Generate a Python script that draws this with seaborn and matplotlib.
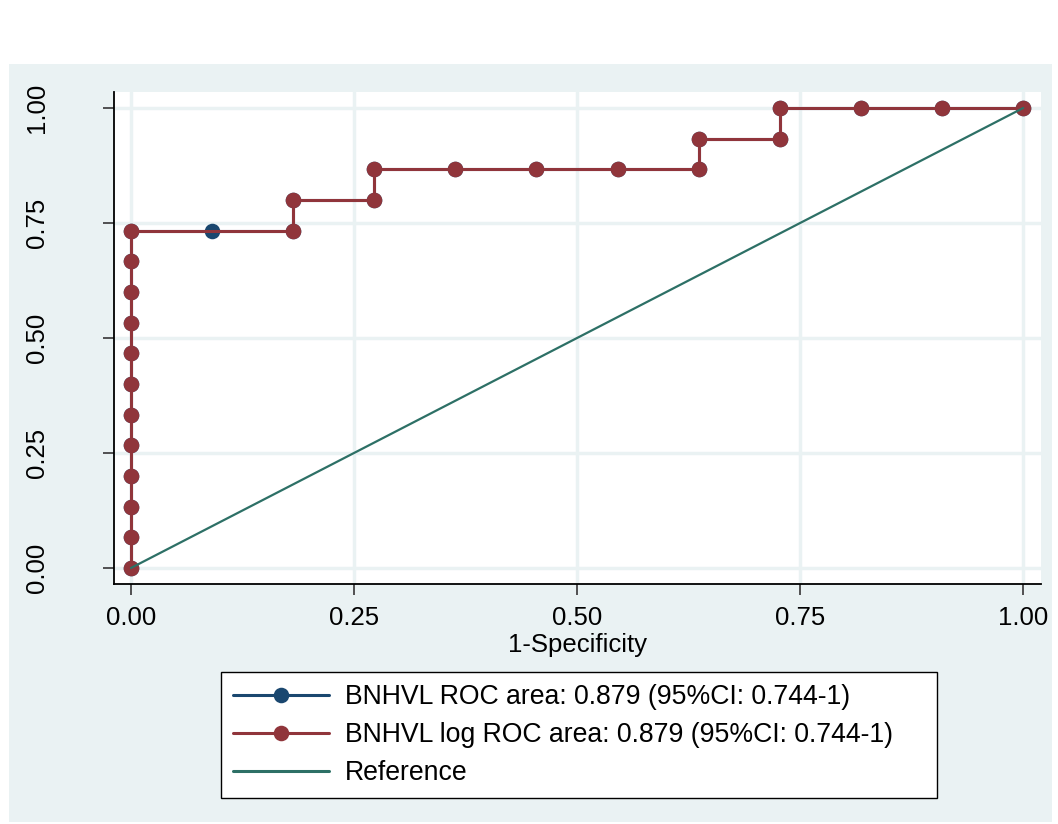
import numpy as np
import pandas as pd
import matplotlib
matplotlib.use("Agg")
import matplotlib.pyplot as plt
import seaborn as sns
from matplotlib.patches import Rectangle
from matplotlib.lines import Line2D

# ---- data ----
fpr_raw = [0, 0, 0, 0, 0, 0, 0, 0, 0, 0, 0, 0, 0.0909, 0.1818, 0.1818, 0.2727, 0.2727,
           0.3636, 0.4545, 0.5455, 0.6364, 0.6364, 0.7273, 0.7273, 0.8182, 0.9091, 1.0]
tpr_raw = [0, 0.0667, 0.1333, 0.2, 0.2667, 0.3333, 0.4, 0.4667, 0.5333, 0.6, 0.6667, 0.7333,
           0.7333, 0.7333, 0.8, 0.8, 0.8667, 0.8667, 0.8667, 0.8667, 0.8667, 0.9333,
           0.9333, 1.0, 1.0, 1.0, 1.0]
fpr_log = [0, 0, 0, 0, 0, 0, 0, 0, 0, 0, 0, 0, 0.1818, 0.1818, 0.2727, 0.2727,
           0.3636, 0.4545, 0.5455, 0.6364, 0.6364, 0.7273, 0.7273, 0.8182, 0.9091, 1.0]
tpr_log = [0, 0.0667, 0.1333, 0.2, 0.2667, 0.3333, 0.4, 0.4667, 0.5333, 0.6, 0.6667, 0.7333,
           0.7333, 0.8, 0.8, 0.8667, 0.8667, 0.8667, 0.8667, 0.8667, 0.9333,
           0.9333, 1.0, 1.0, 1.0, 1.0]
ref_x = [0, 1]
ref_y = [0, 1]
labels = ["BNHVL ROC area: 0.879 (95%CI: 0.744-1)",
          "BNHVL log ROC area: 0.879 (95%CI: 0.744-1)",
          "Reference"]
ticks = [0.0, 0.25, 0.5, 0.75, 1.0]
tick_labels = ["0.00", "0.25", "0.50", "0.75", "1.00"]

NAVY = "#1A476F"
MAROON = "#90353B"
TEAL = "#2D7066"
BG = "#EAF2F3"

sns.set_theme(style="white")
plt.rcParams["font.family"] = ["Liberation Sans", "DejaVu Sans"]
plt.rcParams["text.color"] = "black"
plt.rcParams["axes.labelcolor"] = "black"
plt.rcParams["xtick.color"] = "black"
plt.rcParams["ytick.color"] = "black"

W, H = 1058, 824
fig = plt.figure(figsize=(W / 100, H / 100), dpi=100, facecolor="white")
fig.patches.append(Rectangle((9 / W, 1 - 822 / H), (1052 - 9) / W, (822 - 64) / H,
                             transform=fig.transFigure, facecolor=BG, edgecolor="none",
                             zorder=-10))

ax = fig.add_axes([114 / W, 1 - 584 / H, (1041 - 114) / W, (584 - 92) / H])
ax.set_zorder(1)
ax.set_facecolor("white")

df_raw = pd.DataFrame({"x": fpr_raw, "y": tpr_raw})
df_log = pd.DataFrame({"x": fpr_log, "y": tpr_log})
df_ref = pd.DataFrame({"x": ref_x, "y": ref_y})

ms = 11.2
lw = 2.2
sns.lineplot(data=df_raw, x="x", y="y", sort=False, estimator=None, ax=ax, color=NAVY,
             linewidth=lw, marker="o", markersize=ms, markeredgewidth=0, zorder=3)
sns.lineplot(data=df_log, x="x", y="y", sort=False, estimator=None, ax=ax, color=MAROON,
             linewidth=lw, marker="o", markersize=ms, markeredgewidth=0, zorder=4)
sns.lineplot(data=df_ref, x="x", y="y", sort=False, estimator=None, ax=ax, color=TEAL,
             linewidth=1.6, zorder=5)

ax.set_xlim(-0.019, 1.020)
ax.set_ylim(-0.0348, 1.0348)
ax.set_xticks(ticks)
ax.set_xticklabels(tick_labels, fontsize=18.5)
ax.set_yticks(ticks)
ax.set_yticklabels(tick_labels, fontsize=18.5, rotation=90, va="center")
ax.grid(True, color=BG, linewidth=2.5)
ax.set_axisbelow(True)
for s in ["top", "right"]:
    ax.spines[s].set_visible(False)
for s in ["left", "bottom"]:
    ax.spines[s].set_color("black")
    ax.spines[s].set_linewidth(1.3)
ax.tick_params(axis="both", which="major", length=8, width=1.3, color="#444444", direction="out",
               left=True, bottom=True)
ax.tick_params(axis="x", pad=8)
ax.tick_params(axis="y", pad=39)
ax.set_xlabel("1-Specificity", fontsize=18.5, labelpad=2)
ax.set_ylabel("")

handles = [Line2D([], [], color=NAVY, linewidth=lw, marker="o", markersize=ms, markeredgewidth=0),
           Line2D([], [], color=MAROON, linewidth=lw, marker="o", markersize=ms, markeredgewidth=0),
           Line2D([], [], color=TEAL, linewidth=lw)]
leg = fig.legend(handles, labels, loc="upper left",
                 bbox_to_anchor=(221 / W, 1 - 797 / H, (937 - 221) / W, (797 - 672) / H),
                 mode="expand", fontsize=19.2, frameon=True,
                 fancybox=False, edgecolor="black", facecolor="white", framealpha=1,
                 handlelength=3.6, handletextpad=0.6, labelspacing=0.45, borderpad=0.45,
                 borderaxespad=0)
leg.get_frame().set_linewidth(1.0)

fig.savefig("out.png", dpi=100, facecolor="white")
